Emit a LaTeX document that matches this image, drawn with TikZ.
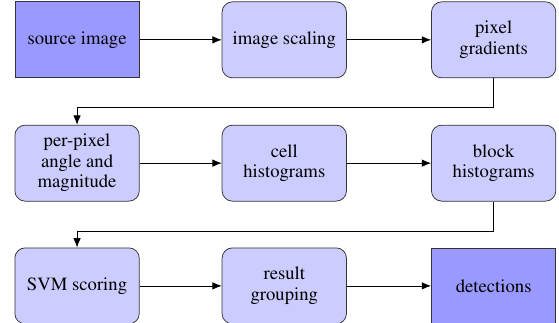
\documentclass[tikz,border=0pt]{standalone}
\usepackage[T1]{fontenc}
\usepackage{times}
\usepackage{tikz}
\usetikzlibrary{positioning, arrows.meta, calc}
\usepackage{xcolor}
\definecolor{stepfill}{HTML}{CCCCFF}
\definecolor{endfill}{HTML}{9999FF}
\definecolor{stepline}{HTML}{333333}

\tikzset{
  stagebox/.style={draw=stepline, fill=stepfill, rounded corners=5.5pt,
    minimum width=2.34cm, minimum height=1.43cm, align=center,
    font=\rmfamily\fontsize{10}{11}\selectfont},
  endbox/.style={stagebox, fill=endfill, rounded corners=0pt},
  flow/.style={-{Latex[length=5pt,width=4pt]}, thin}
}

\begin{document}
\begin{tikzpicture}
    \useasboundingbox (0,0) rectangle (10.52,-6.06);
    % first row
    \node[endbox] (source) at (1.45,-0.75) {source image};
    \node[stagebox] (scaling) at (5.35,-0.75) {image scaling};
    \node[stagebox] (gradients) at (9.29,-0.75) {pixel\\gradients};
    % second row
    \node[stagebox] (angle) at (1.45,-3.07) {per-pixel\\angle and\\magnitude};
    \node[stagebox] (cellhist) at (5.35,-3.07) {cell\\histograms};
    \node[stagebox] (blockhist) at (9.29,-3.07) {block\\histograms};
    % third row
    \node[stagebox] (svm) at (1.45,-5.38) {SVM scoring};
    \node[stagebox] (grouping) at (5.35,-5.38) {result\\grouping};
    \node[endbox] (detect) at (9.29,-5.38) {detections};
    % turning points of the wrap-around lines
    \coordinate (wrapa) at (0,-2.03);
    \coordinate (wrapb) at (0,-4.35);
    % connectors
    \draw[flow] (source) -- (scaling);
    \draw[flow] (scaling) -- (gradients);
    \draw[flow] (gradients.south) |- (wrapa -| angle.north) -- (angle.north);
    \draw[flow] (angle) -- (cellhist);
    \draw[flow] (cellhist) -- (blockhist);
    \draw[flow] (blockhist.south) |- (wrapb -| svm.north) -- (svm.north);
    \draw[flow] (svm) -- (grouping);
    \draw[flow] (grouping) -- (detect);
\end{tikzpicture}
\end{document}
